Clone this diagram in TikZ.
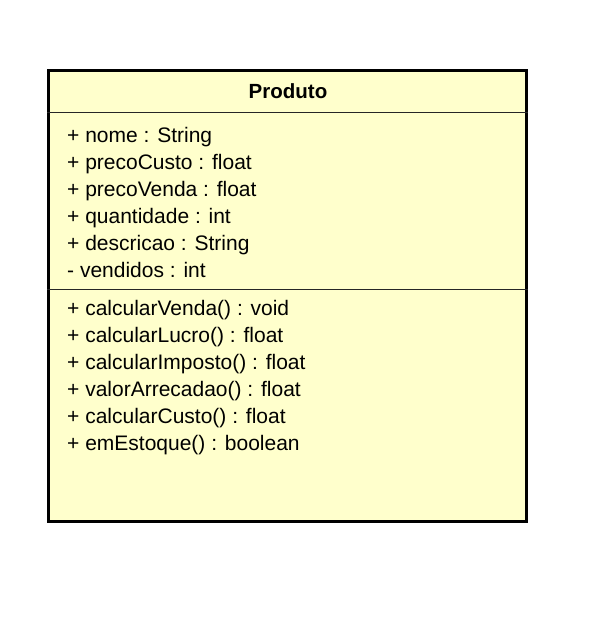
\documentclass[tikz,border=0pt]{standalone}
\usepackage{fontspec}
\setmainfont{Liberation Sans}
\definecolor{umlfill}{HTML}{FFFFCC}
\begin{document}
\begin{tikzpicture}[x=1pt, y=-1pt,
   every node/.style={inner sep=0pt, font=\fontsize{21}{25}\selectfont},
   classbox/.style={draw=black, line width=3pt, fill=umlfill,
                    minimum width=478pt, minimum height=451pt},
   member/.style={anchor=base west},
   divider/.style={draw=black!85, line width=1pt}]

\useasboundingbox (0,0) rectangle (598,627);

\node[classbox] (produto) at (287.5,296) {};
\node[anchor=base, font=\fontsize{20.5}{24}\selectfont\bfseries] (title) at (288,98) {Produto};

\draw[divider] (produto.west |- 0,112) -- (produto.east |- 0,112);
\draw[divider] (produto.west |- 0,289) -- (produto.east |- 0,289);

% attributes
\foreach \txt [count=\i] in {+ nome : String, + precoCusto : float,
    + precoVenda : float, + quantidade : int, + descricao : String,
    - vendidos : int}
  \node[member] (attr\i) at (67,{115+27*\i}) {\txt};

% operations
\foreach \txt [count=\i] in {+ calcularVenda() : void, + calcularLucro() : float,
    + calcularImposto() : float, + valorArrecadao() : float,
    + calcularCusto() : float, + emEstoque() : boolean}
  \node[member] (oper\i) at (67,{288+27*\i}) {\txt};

\end{tikzpicture}
\end{document}
